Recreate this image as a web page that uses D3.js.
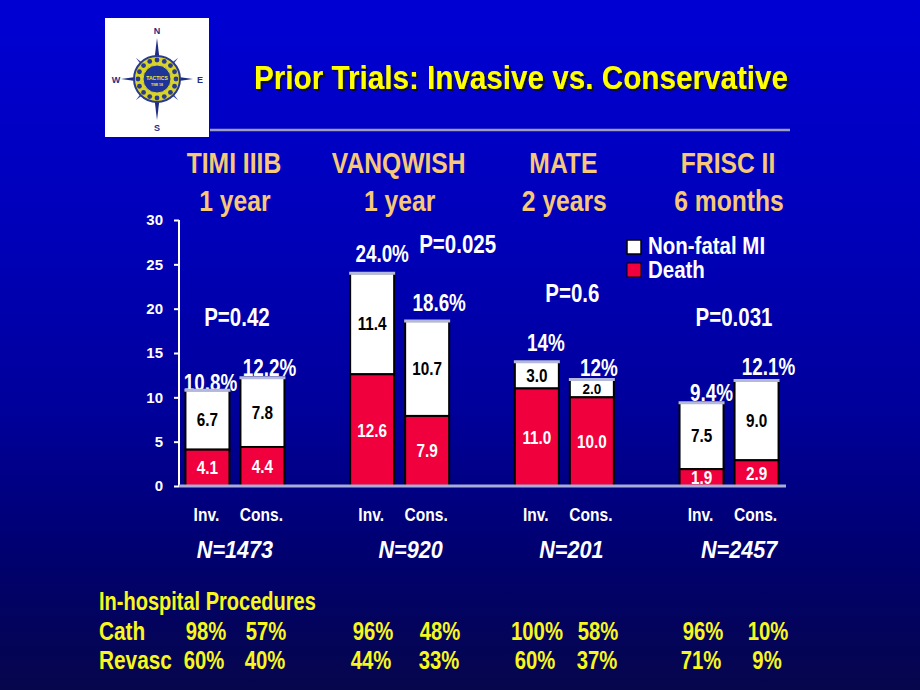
<!DOCTYPE html>
<html>
<head>
<meta charset="utf-8">
<script src="https://cdn.jsdelivr.net/npm/d3@7"></script>
<style>
  html, body { margin: 0; padding: 0; background: #000060; }
  svg { display: block; }
  text { font-family: "Liberation Sans", Arial, Helvetica, sans-serif; font-weight: bold; }
</style>
</head>
<body>
<svg id="chart" width="920" height="690"></svg>
<script>
// ---------------- DATA ----------------
const trials    = ["TIMI IIIB", "VANQWISH", "MATE", "FRISC II"];
const durations = ["1 year", "1 year", "2 years", "6 months"];
const arms      = ["Inv.", "Cons."];
const deathInv  = [4.1, 12.6, 11.0, 1.9];
const deathCons = [4.4, 7.9, 10.0, 2.9];
const miInv     = [6.7, 11.4, 3.0, 7.5];
const miCons    = [7.8, 10.7, 2.0, 9.0];
const totalInv  = ["10.8%", "24.0%", "14%", "9.4%"];
const totalCons = ["12.2%", "18.6%", "12%", "12.1%"];
const pValues   = ["P=0.42", "P=0.025", "P=0.6", "P=0.031"];
const nValues   = ["N=1473", "N=920", "N=201", "N=2457"];
const cathInv   = ["98%", "96%", "100%", "96%"];
const cathCons  = ["57%", "48%", "58%", "10%"];
const revInv    = ["60%", "44%", "60%", "71%"];
const revCons   = ["40%", "33%", "37%", "9%"];
const yTicks    = [0, 5, 10, 15, 20, 25, 30];
const legendLabels = ["Non-fatal MI", "Death"];

// ---------------- LAYOUT ----------------
const svg = d3.select("#chart");
const W = 920, H = 690;
const RED = "#f0003c", WHITE = "#ffffff", YEL = "#f7f71e", GOLD = "#f6c878";

const defs = svg.append("defs");
const grad = defs.append("linearGradient").attr("id", "bg").attr("x1", 0).attr("y1", 0).attr("x2", 0).attr("y2", 1);
[[0, "#0000d4"], [0.35, "#0000b8"], [0.6, "#00009a"], [0.8, "#000070"], [1, "#06064c"]]
  .forEach(([o, c]) => grad.append("stop").attr("offset", o).attr("stop-color", c));
const sh = defs.append("filter").attr("id", "shadow").attr("x", "-5%").attr("y", "-20%").attr("width", "110%").attr("height", "150%");
sh.append("feDropShadow").attr("dx", 2).attr("dy", 2).attr("stdDeviation", 0.6)
  .attr("flood-color", "#101010").attr("flood-opacity", 0.85);
svg.append("rect").attr("width", W).attr("height", H).attr("fill", "url(#bg)");

function T(parent, x, y, str, o = {}) {
  const g = parent.append("g").attr("transform", `translate(${x},${y}) scale(${o.sx || 1},1)`);
  const t = g.append("text").text(str)
    .attr("text-anchor", o.anchor || "middle")
    .attr("font-size", o.size || 16)
    .attr("fill", o.fill || WHITE);
  if (o.style) t.attr("font-style", o.style);
  if (o.len) t.attr("textLength", o.len).attr("lengthAdjust", "spacingAndGlyphs");
  return t;
}

// Scales
const y = d3.scaleLinear().domain([0, 30]).range([486, 220]);
const x = d3.scaleBand().domain(trials).range([152.6, 811.4]).paddingInner(0).paddingOuter(0);
const step = x.step();
const xa = d3.scaleBand().domain(arms).range([step / 2 - 49.5, step / 2 + 49.5]).paddingInner(0.2).paddingOuter(0);
const bw = xa.bandwidth();

// ---------------- LOGO ----------------
const logo = svg.append("g");
logo.append("rect").attr("x", 105).attr("y", 18).attr("width", 104).attr("height", 119).attr("fill", "#ffffff");
const cx = 157, cy = 79;
const navy = "#1e2c82";
[45, 135, 225, 315].forEach(a => {
  const r = a * Math.PI / 180, L = 30, w = 4;
  const tip = [cx + L * Math.cos(r), cy + L * Math.sin(r)];
  const p1 = [cx + w * Math.cos(r + Math.PI / 2), cy + w * Math.sin(r + Math.PI / 2)];
  const p2 = [cx + w * Math.cos(r - Math.PI / 2), cy + w * Math.sin(r - Math.PI / 2)];
  logo.append("polygon").attr("points", [p1, tip, p2, [cx, cy]].map(p => p.join(",")).join(" ")).attr("fill", "#3a4aa0");
});
[[0, -41], [0, 41], [-36, 0], [36, 0]].forEach(([dx, dy]) => {
  const L = Math.hypot(dx, dy), ux = dx / L, uy = dy / L, w = 5;
  const tip = [cx + dx, cy + dy];
  const p1 = [cx - uy * w, cy + ux * w], p2 = [cx + uy * w, cy - ux * w];
  logo.append("polygon").attr("points", [p1, tip, p2, [cx, cy]].map(p => p.join(",")).join(" ")).attr("fill", navy);
});
logo.append("circle").attr("cx", cx).attr("cy", cy).attr("r", 23).attr("fill", "#d8d428").attr("stroke", "#2a3a90").attr("stroke-width", 2);
d3.range(16).forEach(i => {
  const a = i / 16 * 2 * Math.PI;
  logo.append("circle").attr("cx", cx + 19 * Math.cos(a)).attr("cy", cy + 19 * Math.sin(a)).attr("r", 2.4).attr("fill", "#2a3a90");
});
logo.append("circle").attr("cx", cx).attr("cy", cy).attr("r", 14).attr("fill", "#1e3496").attr("stroke", "#d8d428").attr("stroke-width", 1);
T(logo, cx, cy + 1, "TACTICS", { size: 6, fill: "#f0e840", sx: 0.85 });
T(logo, cx, cy + 7, "TIMI 18", { size: 3.5, fill: "#f0e840" });
T(logo, 157, 34, "N", { size: 9, fill: navy });
T(logo, 157, 131, "S", { size: 9, fill: navy });
T(logo, 116, 83, "W", { size: 9, fill: navy });
T(logo, 200, 83, "E", { size: 9, fill: navy });

// ---------------- TITLE ----------------
const title = "Prior Trials: Invasive vs. Conservative";
T(svg, 521, 89, title, { size: 33, fill: "#ffff00", len: 534 }).attr("filter", "url(#shadow)");
svg.append("line").attr("x1", 210).attr("x2", 790).attr("y1", 130).attr("y2", 130)
  .attr("stroke", "#9c9cc4").attr("stroke-width", 2.5);

// ---------------- HEADERS ----------------
trials.forEach((t, i) => {
  const c = x(t) + step / 2;
  T(svg, c - 1, 173, t, { size: 29, fill: GOLD, sx: 0.85 });
  T(svg, c, 211, durations[i], { size: 29, fill: GOLD, sx: 0.85 });
});

// ---------------- AXIS ----------------
const axis = svg.append("g").attr("transform", "translate(179,0)")
  .call(d3.axisLeft(y).tickValues(yTicks).tickSize(5).tickPadding(11).tickFormat(d3.format("d")));
axis.select(".domain").attr("stroke", "#ffffff").attr("stroke-width", 2).attr("d", `M0,${y(30)}V${y(0)}`);
axis.selectAll(".tick line").attr("stroke", "#ffffff").attr("stroke-width", 2);
axis.selectAll(".tick text").attr("fill", "#ffffff").attr("font-size", 15)
  .attr("font-family", "'Liberation Sans', Arial, sans-serif").attr("font-weight", "bold");

// ---------------- BARS ----------------
const bars = [];
trials.forEach((t, i) => {
  bars.push({ trial: t, arm: "Inv.", death: deathInv[i], mi: miInv[i], total: totalInv[i], i });
  bars.push({ trial: t, arm: "Cons.", death: deathCons[i], mi: miCons[i], total: totalCons[i], i });
});
// layout offsets for total labels (dx, dy relative to bar centre/top)
const totalOff = {
  "TIMI IIIB|Inv.": [3, 1], "TIMI IIIB|Cons.": [7, -2],
  "VANQWISH|Inv.": [10, -11], "VANQWISH|Cons.": [12, -10],
  "MATE|Inv.": [9, -11], "MATE|Cons.": [7, -4],
  "FRISC II|Inv.": [10, -2], "FRISC II|Cons.": [12, -5]
};
const bx = d => x(d.trial) + xa(d.arm);

bars.forEach(d => {
  const off = totalOff[d.trial + "|" + d.arm];
  T(svg, bx(d) + bw / 2 + off[0], y(d.death + d.mi) + off[1], d.total, { size: 23, sx: 0.82 });
});

const bg = svg.append("g");
bg.selectAll("rect.mi").data(bars).join("rect").attr("class", "mi")
  .attr("x", bx).attr("width", bw)
  .attr("y", d => y(d.death + d.mi)).attr("height", d => y(d.death) - y(d.death + d.mi))
  .attr("fill", WHITE).attr("stroke", "#000000").attr("stroke-width", 2);
bg.selectAll("rect.death").data(bars).join("rect").attr("class", "death")
  .attr("x", bx).attr("width", bw)
  .attr("y", d => y(d.death)).attr("height", d => y(0) - y(d.death))
  .attr("fill", RED).attr("stroke", "#000000").attr("stroke-width", 2);
bg.selectAll("line.cap").data(bars).join("line").attr("class", "cap")
  .attr("x1", d => bx(d) - 1).attr("x2", d => bx(d) + bw + 1)
  .attr("y1", d => y(d.death + d.mi)).attr("y2", d => y(d.death + d.mi))
  .attr("stroke", "#b4b8dc").attr("stroke-width", 3);

bars.forEach(d => {
  const c = bx(d) + bw / 2;
  const small = d.mi < 2.5;
  T(svg, c, (y(d.death) + y(d.death + d.mi)) / 2 + (small ? 6 : 6.5), d3.format(".1f")(d.mi),
    { size: small ? 15 : 18, fill: "#000000", sx: small ? 0.9 : 0.85 });
  T(svg, c, (y(0) + y(d.death)) / 2 + 6.5, d3.format(".1f")(d.death), { size: 18, fill: "#ffffff", sx: 0.85 });
});

svg.append("line").attr("x1", 179).attr("x2", 786).attr("y1", y(0)).attr("y2", y(0))
  .attr("stroke", "#a8acd8").attr("stroke-width", 3);

// P values (layout anchors: dx from group centre, y in data units)
const pPos = [[2, 18.0], [58, 26.3], [8, 20.7], [5, 18.0]];
trials.forEach((t, i) => {
  T(svg, x(t) + step / 2 + pPos[i][0], y(pPos[i][1]), pValues[i], { size: 25, sx: 0.82 });
});

// ---------------- LEGEND ----------------
const lg = svg.append("g");
lg.append("rect").attr("x", 627).attr("y", 240).attr("width", 14).attr("height", 14)
  .attr("fill", WHITE).attr("stroke", "#000").attr("stroke-width", 1.5);
lg.append("rect").attr("x", 627).attr("y", 263).attr("width", 14).attr("height", 14)
  .attr("fill", RED).attr("stroke", "#000").attr("stroke-width", 1);
T(lg, 648, 254, legendLabels[0], { size: 23, anchor: "start", sx: 0.89 });
T(lg, 648, 278, legendLabels[1], { size: 23, anchor: "start", sx: 0.89 });

// ---------------- ARM LABELS & N ----------------
bars.forEach(d => {
  T(svg, bx(d) + bw / 2 - 1, 521, d.arm, { size: 19, sx: 0.82 });
});
const nDx = [0, 11, 7, 10];
trials.forEach((t, i) => {
  T(svg, x(t) + step / 2 + nDx[i], 558, nValues[i], { size: 24, sx: 0.9, style: "italic" });
});

// ---------------- PROCEDURES TABLE ----------------
T(svg, 99, 610, "In-hospital Procedures", { size: 26, fill: YEL, anchor: "start", sx: 0.77 });
T(svg, 99, 640, "Cath", { size: 26, fill: YEL, anchor: "start", sx: 0.8 });
T(svg, 99, 669, "Revasc", { size: 26, fill: YEL, anchor: "start", sx: 0.8 });
const colX = [[206, 266], [373, 440], [537, 598], [703, 768]];
trials.forEach((t, i) => {
  T(svg, colX[i][0], 640, cathInv[i], { size: 26, fill: YEL, sx: 0.78 });
  T(svg, colX[i][1], 640, cathCons[i], { size: 26, fill: YEL, sx: 0.78 });
  T(svg, colX[i][0] - 2, 669, revInv[i], { size: 26, fill: YEL, sx: 0.78 });
  T(svg, colX[i][1] - 1, 669, revCons[i], { size: 26, fill: YEL, sx: 0.78 });
});
</script>
</body>
</html>
